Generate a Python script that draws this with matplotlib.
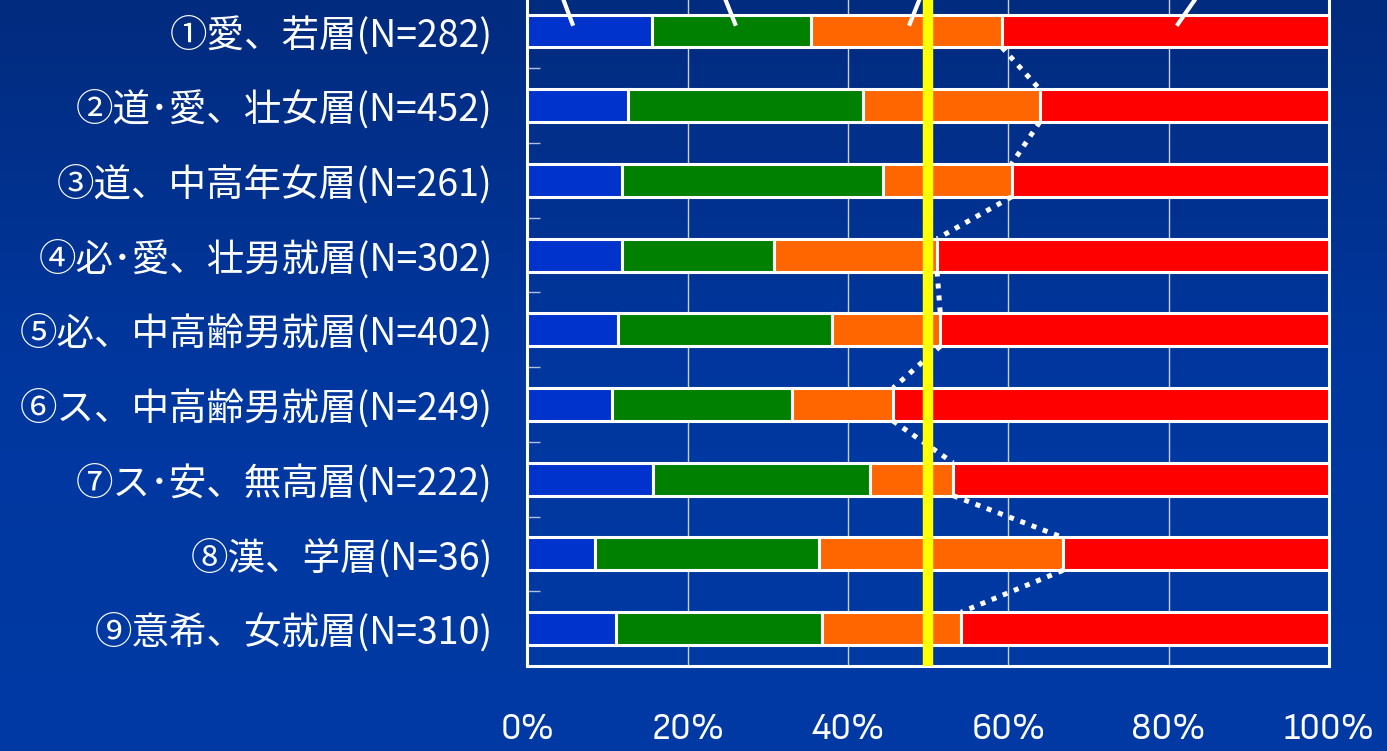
import numpy as np
import matplotlib.pyplot as plt
from matplotlib import font_manager
from matplotlib.colors import LinearSegmentedColormap

# 回答グループ（上から順）
labels = ['①愛、若層(N=282)', '②道･愛、壮女層(N=452)', '③道、中高年女層(N=261)',
          '④必･愛、壮男就層(N=302)', '⑤必、中高齢男就層(N=402)', '⑥ス、中高齢男就層(N=249)',
          '⑦ス･安、無高層(N=222)', '⑧漢、学層(N=36)', '⑨意希、女就層(N=310)']

# 各区分の割合（%）
blue = [15.5, 12.6, 11.8, 11.8, 11.3, 10.5, 15.6, 8.4, 11.0]
green = [19.9, 29.2, 32.5, 19.0, 26.7, 22.5, 27.1, 28.0, 25.8]
orange = [23.8, 22.1, 16.1, 20.3, 13.5, 12.6, 10.4, 30.4, 17.3]
red = [40.8, 36.1, 39.6, 48.9, 48.5, 54.4, 46.9, 33.2, 45.9]

x_ticks = [0, 20, 40, 60, 80, 100]
x_ticklabels = ['0%', '20%', '40%', '60%', '80%', '100%']
ref_line = 50  # 黄色の基準線

# 凡例の引き出し線（上部で切れている）
leader_x = [(4.2, 5.7), (24.4, 26.0), (49.2, 47.6), (83.8, 81.0)]
leader_y = (-0.5, -0.07)

colors = ['#0033CC', '#008000', '#FF6600', '#FF0000']

jp_font = ['Noto Sans CJK JP', 'DejaVu Sans']
names = {f.name for f in font_manager.fontManager.ttflist}
narrow = [n for n in names if 'Narrow' in n or 'Condensed' in n]
tick_font = narrow[0] if narrow else 'Liberation Sans'

fig = plt.figure(figsize=(13.87, 7.51), dpi=100)

# 背景グラデーション
bg = fig.add_axes([0, 0, 1, 1], zorder=-10)
cmap = LinearSegmentedColormap.from_list('bg', ['#022B7E', '#00379F', '#003AA4'])
bg.imshow(np.linspace(0, 1, 256).reshape(-1, 1), aspect='auto', cmap=cmap,
          extent=[0, 1, 0, 1], origin='upper')
bg.axis('off')

ax = fig.add_axes([0.3803, 0.1132, 0.5779, 0.8953])
ax.set_facecolor('none')

y = np.arange(len(labels))
h = 0.44
left = np.zeros(len(labels))
for vals, c in zip([blue, green, orange, red], colors):
    ax.barh(y, vals, left=left, height=h, color=c, edgecolor='white', linewidth=2.2, zorder=3)
    left = left + np.array(vals)

# オレンジ区分の終端を結ぶ点線
cum_orange = np.array(blue) + np.array(green) + np.array(orange)
for i in range(len(labels) - 1):
    ax.plot([cum_orange[i], cum_orange[i + 1]], [y[i] + h / 2, y[i + 1] - h / 2],
            color='white', linewidth=3.6, linestyle=(0, (1, 1.4)), zorder=4)

ax.axvline(ref_line, color='#FFFF00', linewidth=7.5, zorder=5)

for xs in leader_x:
    ax.plot(xs, leader_y, color='white', linewidth=3, zorder=6, clip_on=False,
            solid_capstyle='butt')

ax.set_xlim(0, 100)
ax.set_ylim(len(labels) - 0.5, -0.5)
ax.set_xticks(x_ticks)
ax.set_xticklabels(x_ticklabels, fontsize=27, color='white', family=tick_font)
ax.set_yticks(y)
ax.set_yticklabels(labels, fontsize=27, color='white', family=jp_font)
ax.set_yticks(np.arange(0.5, len(labels) - 1, 1), minor=True)
ax.tick_params(axis='x', length=0, pad=34)
ax.tick_params(axis='y', which='major', length=0, pad=25)
ax.tick_params(axis='y', which='minor', direction='in', length=9, width=1, color='#B0BEE0')
ax.grid(axis='x', color='#C8D0E8', linewidth=1, zorder=0)
ax.set_axisbelow(True)
for s in ax.spines.values():
    s.set_color('white')
    s.set_linewidth(2.2)

fig.savefig('out.png', dpi=100)
